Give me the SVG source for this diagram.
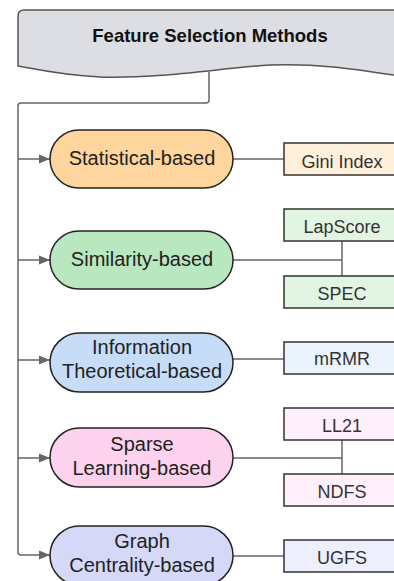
<svg xmlns="http://www.w3.org/2000/svg" width="394" height="581" viewBox="0 0 394 581">
<style>
.ln{fill:none;stroke:#666;stroke-width:1.5}
.nd{stroke:#222;stroke-width:1.5}
.bx{stroke:#333;stroke-width:1.5}
.nt{font-family:"Liberation Sans",Arial,sans-serif;font-size:20px;fill:#222;text-anchor:middle}
.bt{font-family:"Liberation Sans",Arial,sans-serif;font-size:18px;fill:#333;text-anchor:middle}
</style>
<defs>
<marker id="ah" markerWidth="12" markerHeight="10" refX="11" refY="5" orient="auto" markerUnits="userSpaceOnUse">
<path d="M0,0.5 L11,5 L0,9.5 Z" fill="#666"/>
</marker>
</defs>
<rect width="394" height="581" fill="#fff"/>
<g id="header">
<path d="M18,66 L18,16 Q18,10 24,10 L400,10 L400,76 C360,70 320,63 270,65 C220,68 160,79 100,77 C60,75 35,69 18,66 Z" fill="#dcdee3" stroke="#555" stroke-width="1.5"/>
<text x="210" y="42" font-family="'Liberation Sans',Arial,sans-serif" font-size="18.5px" font-weight="bold" fill="#111" text-anchor="middle">Feature Selection Methods</text>
</g>
<g id="connectors">
<path class="ln" d="M209,72 L209,100 Q209,103 206,103 L21,103 Q18,103 18,106 L18,552 Q18,555 21,555 L50,555" marker-end="url(#ah)"/>
<path class="ln" d="M18,159 L50,159" marker-end="url(#ah)"/>
<path class="ln" d="M18,260 L50,260" marker-end="url(#ah)"/>
<path class="ln" d="M18,360 L50,360" marker-end="url(#ah)"/>
<path class="ln" d="M18,458 L50,458" marker-end="url(#ah)"/>
<path class="ln" d="M233,159 L284,159"/>
<path class="ln" d="M233,260 L342,260"/>
<path class="ln" d="M342,241 L342,276"/>
<path class="ln" d="M233,359 L284,359"/>
<path class="ln" d="M233,458 L342,458"/>
<path class="ln" d="M342,440 L342,474"/>
<path class="ln" d="M233,556 L284,556"/>
</g>
<g id="statistical">
<rect class="nd" x="50" y="130" width="183" height="58" rx="29" fill="#fed59c"/>
<text class="nt" x="142" y="165">Statistical-based</text>
</g>
<g id="similarity">
<rect class="nd" x="50" y="231" width="183" height="58" rx="29" fill="#b9e7c0"/>
<text class="nt" x="142" y="266">Similarity-based</text>
</g>
<g id="information">
<rect class="nd" x="50" y="333" width="183" height="59" rx="29.5" fill="#c6dcf7"/>
<text class="nt" x="142" y="354">Information</text>
<text class="nt" x="142" y="378">Theoretical-based</text>
</g>
<g id="sparse">
<rect class="nd" x="50" y="428" width="183" height="59" rx="29.5" fill="#fdd2ee"/>
<text class="nt" x="142" y="451">Sparse</text>
<text class="nt" x="142" y="475">Learning-based</text>
</g>
<g id="graph">
<rect class="nd" x="50" y="526" width="183" height="59" rx="29.5" fill="#d6d8f8"/>
<text class="nt" x="142" y="548">Graph</text>
<text class="nt" x="142" y="572">Centrality-based</text>
</g>
<g id="gini">
<rect class="bx" x="284" y="143" width="120" height="32" fill="#fff0dc"/>
<text class="bt" x="342" y="168">Gini Index</text>
</g>
<g id="lapscore">
<rect class="bx" x="284" y="209" width="120" height="32" fill="#e2f5e2"/>
<text class="bt" x="342" y="233">LapScore</text>
</g>
<g id="spec">
<rect class="bx" x="284" y="276" width="120" height="32" fill="#e2f5e2"/>
<text class="bt" x="342" y="300">SPEC</text>
</g>
<g id="mrmr">
<rect class="bx" x="284" y="342" width="120" height="32" fill="#ebf3fd"/>
<text class="bt" x="342" y="365">mRMR</text>
</g>
<g id="ll21">
<rect class="bx" x="284" y="408" width="120" height="32" fill="#fff0fb"/>
<text class="bt" x="342" y="432">LL21</text>
</g>
<g id="ndfs">
<rect class="bx" x="284" y="474" width="120" height="32" fill="#fff0fb"/>
<text class="bt" x="342" y="498">NDFS</text>
</g>
<g id="ugfs">
<rect class="bx" x="284" y="540" width="120" height="32" fill="#eeeffd"/>
<text class="bt" x="342" y="564">UGFS</text>
</g>
</svg>
